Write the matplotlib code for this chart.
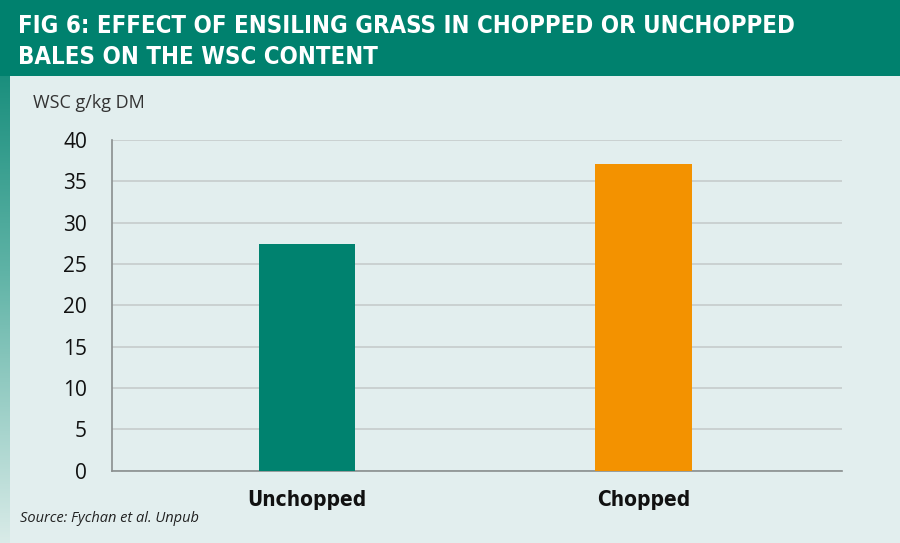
import numpy as np
import matplotlib.pyplot as plt
from matplotlib.colors import LinearSegmentedColormap

categories = ['Unchopped', 'Chopped']
wsc_values = [27.4, 37.1]
bar_colors = ['#00826F', '#F39200']
y_ticks = [0, 5, 10, 15, 20, 25, 30, 35, 40]

title_lines = ['FIG 6: EFFECT OF ENSILING GRASS IN CHOPPED OR UNCHOPPED',
               'BALES ON THE WSC CONTENT']
y_label = 'WSC g/kg DM'
source = 'Source: Fychan et al. Unpub'

W, H = 900, 543
fig = plt.figure(figsize=(W / 100, H / 100), dpi=100)
fig.patch.set_facecolor('#E2EEEE')

# left strip: green fading downwards
strip = fig.add_axes([0, 0, 10 / W, 1])
cmap = LinearSegmentedColormap.from_list('strip', ['#00816E', '#5FB3A6', '#D9EBE8'])
strip.imshow(np.linspace(0, 1, 256).reshape(-1, 1), aspect='auto', cmap=cmap,
             extent=[0, 1, 0, 1])
strip.axis('off')

# title band
band = fig.add_axes([0, 1 - 76 / H, 1, 76 / H])
band.set_facecolor('#00816E')
band.set_xticks([])
band.set_yticks([])
for s in band.spines.values():
    s.set_visible(False)
for line, base in zip(title_lines, [33, 64]):
    fig.text(18 / W, 1 - base / H, line, color='white', fontsize=17.2, fontweight='bold',
             family='DejaVu Sans', fontstretch='condensed', va='baseline', ha='left')

ax = fig.add_axes([112 / W, 1 - 470.7 / H, 730 / W, 330.7 / H])
ax.set_facecolor('#E2EEEE')
x = np.arange(len(categories))
ax.bar(x, wsc_values, width=0.286, color=bar_colors, zorder=3)
ax.set_xlim(-0.58, 1.59)
ax.set_ylim(0, 40)
ax.set_yticks(y_ticks)
ax.yaxis.grid(True, color='#C8CECE', linewidth=1.3, zorder=0)
ax.set_xticks(x)
ax.set_xticklabels(categories, fontsize=15, fontweight='bold',
                   family='DejaVu Sans', fontstretch='condensed')
ax.tick_params(axis='x', length=0, pad=14, colors='#111111')
ax.tick_params(axis='y', length=0, pad=18, labelsize=15, colors='#111111')
for lbl in ax.get_yticklabels():
    lbl.set_family(['Open Sans', 'DejaVu Sans'])
for side in ['top', 'right']:
    ax.spines[side].set_visible(False)
ax.spines['left'].set_color('#8A8F8F')
ax.spines['bottom'].set_color('#8A8F8F')
ax.spines['left'].set_linewidth(1.2)
ax.spines['bottom'].set_linewidth(1.2)

fig.text(33 / W, 1 - 103 / H, y_label, fontsize=13, color='#333333',
         family=['Open Sans', 'DejaVu Sans'], va='center')
fig.text(20 / W, 1 - 519 / H, source, fontsize=10.5, style='italic', color='#222222',
         family=['Open Sans', 'DejaVu Sans'], va='center')

fig.savefig('out.png', dpi=100)
